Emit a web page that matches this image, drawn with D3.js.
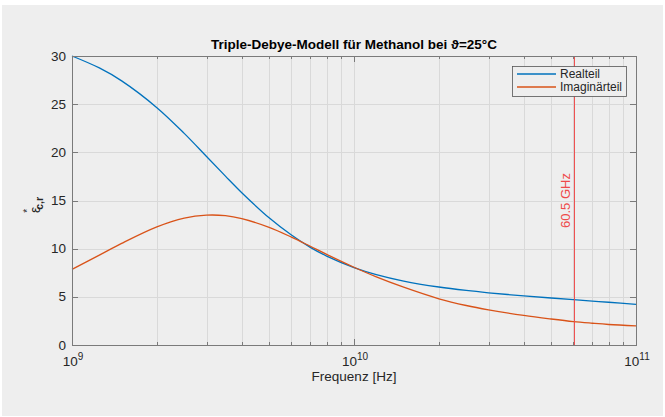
<!DOCTYPE html>
<html>
<head>
<meta charset="utf-8">
<script src="https://cdn.jsdelivr.net/npm/d3@7"></script>
<style>
  body { margin: 0; background: #fff; }
  svg { font-family: "Liberation Sans", Arial, sans-serif; }
</style>
</head>
<body>
<script>
// frequencies in GHz
const freqs = [1, 1.25, 1.5, 2, 2.5, 3, 3.5, 4, 5, 6, 7, 8, 10, 12, 15, 20, 25, 30, 40, 50, 60, 70, 80, 100];
const realPart = [30.0, 28.76, 27.42, 24.64, 21.97, 19.57, 17.53, 15.81, 13.2, 11.41, 10.14, 9.23, 8.04, 7.31, 6.64, 6.02, 5.66, 5.42, 5.1, 4.88, 4.7, 4.55, 4.44, 4.22];
const imagPart = [7.85, 9.33, 10.55, 12.26, 13.17, 13.48, 13.42, 13.11, 12.21, 11.2, 10.25, 9.41, 8.07, 7.07, 6.0, 4.8, 4.1, 3.65, 3.07, 2.7, 2.43, 2.26, 2.13, 1.98];
const markerGHz = 60.5;
const yTicks = [0, 5, 10, 15, 20, 25, 30];
const xMajor = [1e9, 1e10, 1e11];
const seriesNames = ['Realteil', 'Imaginärteil'];

const width = 665, height = 417;
const mLeft = 72, mRight = 636, mTop = 56, mBottom = 345;

const svg = d3.select('body').append('svg')
    .attr('width', width)
    .attr('height', height);

svg.append('rect')
    .attr('x', 2).attr('y', 5)
    .attr('width', 661).attr('height', 411)
    .attr('fill', '#eeeeee');

const x = d3.scaleLog().domain([1e9, 1e11]).range([mLeft, mRight]);
const y = d3.scaleLinear().domain([0, 30]).range([mBottom, mTop]);

const minor = [];
[1e9, 1e10].forEach(dec => {
    for (let k = 2; k <= 9; k++) minor.push(dec * k);
});

// grid
const grid = svg.append('g').attr('stroke', '#d9d9d9').attr('stroke-width', 1);
grid.selectAll('.vg').data(minor.concat([1e10])).enter().append('line')
    .attr('x1', d => Math.round(x(d)) + 0.5).attr('x2', d => Math.round(x(d)) + 0.5)
    .attr('y1', mTop).attr('y2', mBottom);
grid.selectAll('.hg').data(yTicks.slice(1, -1)).enter().append('line')
    .attr('y1', d => Math.round(y(d)) + 0.5).attr('y2', d => Math.round(y(d)) + 0.5)
    .attr('x1', mLeft).attr('x2', mRight);

// ticks (inside, all four sides)
const tickCol = '#7a7a7a';
const ticks = svg.append('g').attr('stroke', tickCol).attr('stroke-width', 1);
minor.forEach(d => {
    const xx = Math.round(x(d)) + 0.5;
    ticks.append('line').attr('x1', xx).attr('x2', xx).attr('y1', mBottom).attr('y2', mBottom - 3);
    ticks.append('line').attr('x1', xx).attr('x2', xx).attr('y1', mTop).attr('y2', mTop + 3);
});
xMajor.forEach(d => {
    const xx = Math.round(x(d)) + 0.5;
    ticks.append('line').attr('x1', xx).attr('x2', xx).attr('y1', mBottom).attr('y2', mBottom - 6);
    ticks.append('line').attr('x1', xx).attr('x2', xx).attr('y1', mTop).attr('y2', mTop + 6);
});
yTicks.forEach(d => {
    const yy = Math.round(y(d)) + 0.5;
    ticks.append('line').attr('x1', mLeft).attr('x2', mLeft + 6).attr('y1', yy).attr('y2', yy);
    ticks.append('line').attr('x1', mRight).attr('x2', mRight - 6).attr('y1', yy).attr('y2', yy);
});

// tick labels
svg.append('g').selectAll('text').data(yTicks).enter().append('text')
    .attr('x', mLeft - 6).attr('y', d => y(d) + 4.5)
    .attr('text-anchor', 'end')
    .attr('font-size', 13.5).attr('fill', '#262626')
    .text(d => d);

const xl = svg.append('g').selectAll('text').data(xMajor).enter().append('text')
    .attr('x', d => x(d) + 1).attr('y', 366)
    .attr('text-anchor', 'middle')
    .attr('font-size', 13.5).attr('fill', '#262626');
xl.append('tspan').text('10');
xl.append('tspan').attr('dy', -6).attr('font-size', 10).text(d => Math.round(Math.log10(d)));

// curves
const line = d3.line()
    .x((d, i) => x(freqs[i] * 1e9))
    .y(d => y(d))
    .curve(d3.curveCatmullRom.alpha(0.5));

const plot = svg.append('g');
plot.append('path').datum(realPart).attr('d', line)
    .attr('fill', 'none').attr('stroke', '#0072bd').attr('stroke-width', 1.3);
plot.append('path').datum(imagPart).attr('d', line)
    .attr('fill', 'none').attr('stroke', '#d95319').attr('stroke-width', 1.3);

// 60.5 GHz marker
const mx = x(markerGHz * 1e9);
svg.append('line')
    .attr('x1', mx).attr('x2', mx).attr('y1', mTop).attr('y2', mBottom)
    .attr('stroke', '#ee4a4a').attr('stroke-width', 1);
svg.append('text')
    .attr('transform', `translate(${mx - 4},${y(15)}) rotate(-90)`)
    .attr('text-anchor', 'middle')
    .attr('font-size', 13).attr('fill', '#ee4a4a')
    .text(markerGHz + ' GHz');

// axes box
svg.append('rect')
    .attr('x', mLeft + 0.5).attr('y', mTop + 0.5)
    .attr('width', mRight - mLeft).attr('height', mBottom - mTop)
    .attr('fill', 'none').attr('stroke', tickCol).attr('stroke-width', 1);

// legend
const lg = svg.append('g');
lg.append('rect')
    .attr('x', 512.5).attr('y', 66.5).attr('width', 114).attr('height', 30)
    .attr('fill', '#eeeeee').attr('stroke', '#555555').attr('stroke-width', 0.8);
const colors = ['#0072bd', '#d95319'];
seriesNames.forEach((name, i) => {
    const ly = 74 + i * 13;
    lg.append('line').attr('x1', 517).attr('x2', 556).attr('y1', ly).attr('y2', ly)
        .attr('stroke', colors[i]).attr('stroke-width', 1.3);
    lg.append('text').attr('x', 560).attr('y', ly + 4)
        .attr('font-size', 12).attr('fill', '#262626').text(name);
});

// title and labels
svg.append('text')
    .attr('x', (mLeft + mRight) / 2).attr('y', 49)
    .attr('text-anchor', 'middle')
    .attr('font-size', 13.5).attr('font-weight', 'bold').attr('fill', '#000')
    .text('Triple-Debye-Modell für Methanol bei ϑ=25°C');

svg.append('text')
    .attr('x', (mLeft + mRight) / 2).attr('y', 381)
    .attr('text-anchor', 'middle')
    .attr('font-size', 13.5).attr('fill', '#262626')
    .text('Frequenz [Hz]');

const yl = svg.append('text')
    .attr('transform', 'translate(40,205) rotate(-90)')
    .attr('text-anchor', 'middle')
    .attr('font-size', 14).attr('fill', '#262626');
yl.append('tspan').text('ε');
yl.append('tspan').attr('dy', -9).attr('dx', -6).attr('font-size', 10).text('*');
yl.append('tspan').attr('dy', 12).attr('dx', -1).attr('font-size', 10.5).attr('font-weight', 'bold').text('c,r');
</script>
</body>
</html>
